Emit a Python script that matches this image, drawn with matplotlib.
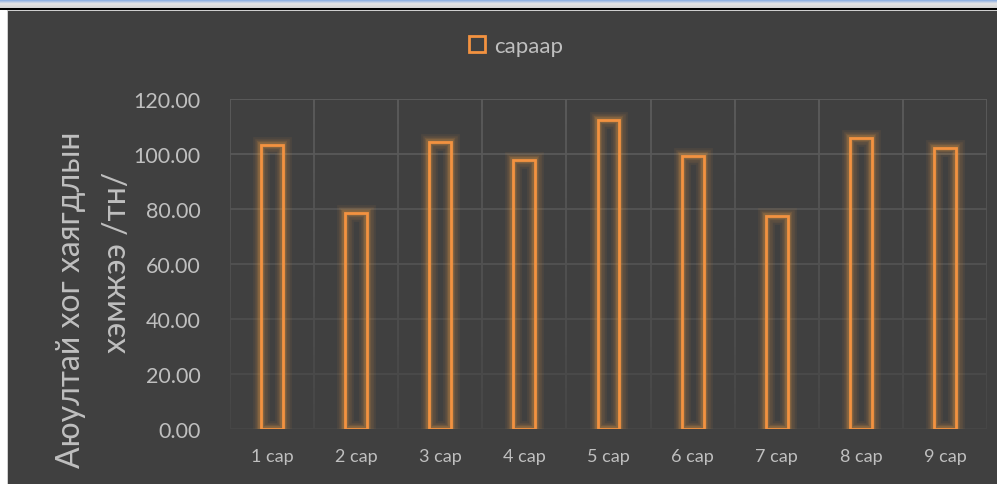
import matplotlib
matplotlib.use("Agg")
import matplotlib.pyplot as plt
import numpy as np
from matplotlib.patches import Rectangle
from matplotlib.collections import LineCollection

# data
months = ["1 сар", "2 сар", "3 сар", "4 сар", "5 сар", "6 сар", "7 сар", "8 сар", "9 сар"]
values = [103.3, 78.5, 104.5, 97.8, 112.2, 99.1, 77.6, 106.0, 102.2]
series_name = "сараар"
y_ticks = [0, 20, 40, 60, 80, 100, 120]
ylabel_lines = ["Аюултай хог хаягдлын", "хэмжээ /тн/"]

plt.rcParams['font.family'] = ['Lato', 'Noto Sans', 'DejaVu Sans']

W, H = 997, 485
bg = "#404040"
orange = "#F39240"
txt = "#BFBFBF"

fig = plt.figure(figsize=(W / 100, H / 100), dpi=100, facecolor="white")

# window strip at top
top = fig.add_axes([0, 1 - 9 / H, 1, 9 / H])
grad = np.linspace(0, 1, 50).reshape(-1, 1)
top.imshow(grad, aspect="auto", cmap=matplotlib.colors.LinearSegmentedColormap.from_list(
    "bar", ["#6d9be0", "#e4e4e4", "#d4d4d4"]), extent=[0, 1, 0, 1])
top.axis("off")
fig.add_artist(Rectangle((0, 1 - 11 / H), 1, 2 / H, transform=fig.transFigure,
                         color="black", lw=0, zorder=-10))
fig.add_artist(Rectangle((7 / W, 0), 990 / W, 1 - 11 / H, transform=fig.transFigure,
                         color="#cfcfcf", lw=0, zorder=-9))
fig.add_artist(Rectangle((8 / W, 0), 989 / W, 1 - 12 / H, transform=fig.transFigure,
                         color=bg, lw=0, zorder=-8))

ax = fig.add_axes([230 / W, (H - 430) / H, 757 / W, 330 / H])
ax.set_facecolor("none")
x = np.arange(len(months))
ax.set_xlim(-0.5, len(months) - 0.5)
ax.set_ylim(0, 120)

# fading gridlines
def fade(y0, y1):
    c_top = np.array(matplotlib.colors.to_rgb("#5c5c5c"))
    c_bot = np.array(matplotlib.colors.to_rgb("#474747"))
    t = (np.mean([y0, y1])) / 120
    return c_bot + (c_top - c_bot) * t

segs, cols = [], []
for t in y_ticks:
    segs.append([(-0.5, t), (len(months) - 0.5, t)])
    cols.append(fade(t, t))
steps = np.linspace(0, 120, 41)
for b in np.arange(-0.5, len(months), 1.0):
    for y0, y1 in zip(steps[:-1], steps[1:]):
        segs.append([(b, y0), (b, y1)])
        cols.append(fade(y0, y1))
ax.add_collection(LineCollection(segs, colors=cols, linewidths=1.3, zorder=0))

# glow around bars
for lw, a in [(12, 0.07), (9, 0.09), (6, 0.13), (4, 0.2)]:
    ax.bar(x, values, width=0.26, facecolor="none", edgecolor="#F5A040", linewidth=lw,
           alpha=a, zorder=2)
ax.bar(x, values, width=0.26, facecolor="none", edgecolor=orange, linewidth=2,
       zorder=3, label=series_name)

ax.set_xticks(x)
ax.set_xticklabels(months, fontsize=13, color=txt)
ax.set_yticks(y_ticks)
ax.set_yticklabels([f"{v:.2f}" for v in y_ticks], fontsize=15.5, color=txt)
ax.tick_params(axis="both", length=0)
ax.tick_params(axis="y", pad=21)
ax.tick_params(axis="x", pad=14)
for s in ax.spines.values():
    s.set_visible(False)

fig.text(71 / W, 1 - 132 / H, ylabel_lines[0], rotation=90, ha="center", va="top",
         fontsize=23, color=txt)
fig.text(117 / W, 1 - 262 / H, ylabel_lines[1], rotation=90, ha="center", va="center",
         fontsize=23, color=txt)

leg = fig.legend(loc="center", bbox_to_anchor=(516 / W, 1 - 47 / H), frameon=False,
                 fontsize=16, handlelength=0.75, handleheight=0.75, handletextpad=0.4)
for t in leg.get_texts():
    t.set_color(txt)

fig.savefig("out.png", dpi=100, facecolor=fig.get_facecolor())
